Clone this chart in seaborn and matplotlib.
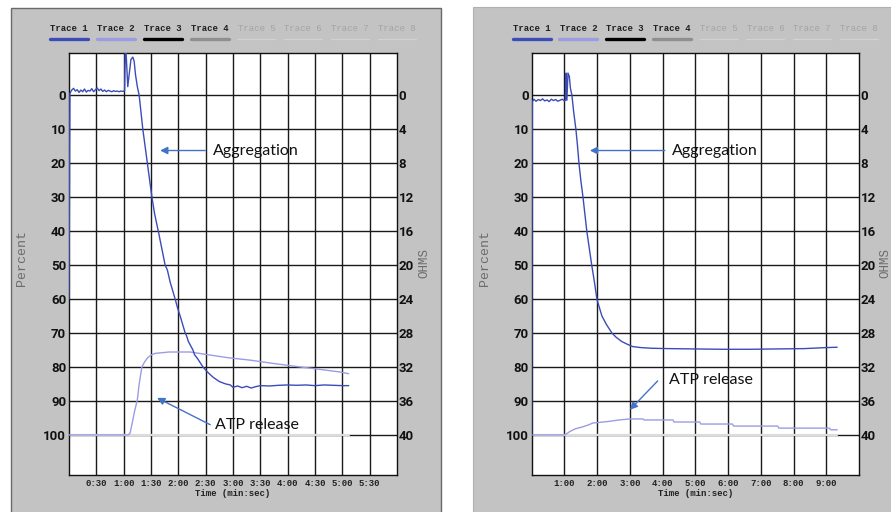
import numpy as np
import pandas as pd
import matplotlib
matplotlib.use("Agg")
import matplotlib.pyplot as plt
import seaborn as sns
from matplotlib.patches import Rectangle
from matplotlib.lines import Line2D

sns.set_theme(style="white")
plt.rcParams['font.family'] = ['DejaVu Sans']

# ---------------- data ----------------
pct_ticks = [0, 10, 20, 30, 40, 50, 60, 70, 80, 90, 100]
ohm_ticks = [0, 4, 8, 12, 16, 20, 24, 28, 32, 36, 40]
trace_names = ["Trace 1", "Trace 2", "Trace 3", "Trace 4",
               "Trace 5", "Trace 6", "Trace 7", "Trace 8"]

# left chart (time in seconds, value in percent)
left_xticks = [30, 60, 90, 120, 150, 180, 210, 240, 270, 300, 330]
left_xlabels = ["0:30", "1:00", "1:30", "2:00", "2:30", "3:00",
                "3:30", "4:00", "4:30", "5:00", "5:30"]
left_agg_t = [0, 1, 3, 5, 7, 9, 11, 13, 15, 17, 19, 21, 23, 25, 27, 29, 31,
              33, 35, 37, 39, 41, 43, 45, 47, 49, 51, 53, 55, 57, 59, 61,
              62, 64.5, 66, 68, 70, 71.5, 73, 75, 77, 79, 81, 83.5, 86, 88.5,
              91, 94, 98, 101, 105.5, 108, 111, 116.5, 119, 122, 127.5, 129,
              131, 136, 138, 141, 147, 152, 158, 165, 172, 177, 180, 185, 190,
              195, 200, 205, 210, 220, 230, 240, 250, 260, 270, 280, 290, 300,
              307]
left_agg_p = [60, -0.5, -1.5, -2.0, -1.2, -1.6, -0.8, -1.5, -1.0, -1.8, -0.9,
              -1.4, -1.2, -1.9, -1.0, -1.6, -2.1, -1.3, -1.8, -1.1, -1.5, -1.0,
              -1.4, -1.2, -1.0, -1.3, -1.1, -1.2, -1.0, -1.2, -1.1, -1.3,
              -16, -2.5, -6, -10.5, -11.2, -10, -6, -2.5, 0, 5, 10, 15, 20, 25,
              30, 35, 40, 44, 50, 51.5, 55, 60, 62.5, 65, 70, 70.8, 72.5, 75,
              76.5, 77.5, 80, 81.5, 83, 84.3, 85, 85.3, 86.0, 85.6, 86.1, 85.7,
              86.2, 85.8, 85.5, 85.6, 85.4, 85.3, 85.4, 85.3, 85.5, 85.3, 85.4,
              85.5, 85.5]
left_atp_t = [0, 65, 67, 69, 72, 75, 77, 80, 83, 86, 90, 94.5, 110, 133, 150,
              175, 199, 225, 254, 275, 298, 307]
left_atp_p = [100, 100, 99.5, 97, 93, 89.7, 85, 80, 78.5, 77.4, 76.5, 76,
              75.6, 75.6, 76.3, 77.3, 78, 79, 80, 80.7, 81.5, 82]
left_base_t = [0, 307]
left_base_p = [100, 100]

# right chart
right_xticks = [60, 120, 180, 240, 300, 360, 420, 480, 540]
right_xlabels = ["1:00", "2:00", "3:00", "4:00", "5:00", "6:00",
                 "7:00", "8:00", "9:00"]
right_agg_t = [0, 1, 4, 8, 12, 16, 20, 24, 28, 32, 36, 40, 44, 48, 52, 56, 60,
               62, 63, 64.5, 66.5, 69, 71, 73.7, 77, 81, 84, 86.6, 90, 94,
               97.5, 101, 105.5, 110, 115, 119.5, 124, 128.7, 137, 147, 155,
               165, 175, 185, 200, 220, 250, 300, 350, 400, 450, 500, 540, 560]
right_agg_p = [100, 2, 1.2, 1.8, 1.3, 1.6, 1.1, 1.7, 1.4, 1.9, 1.2, 1.6, 1.3,
               1.8, 1.5, 1.2, 1.7, 1.5, -6.5, 1.5, -6.5, -5.5, -2, 0, 5, 10,
               15, 20, 25, 30, 35, 40, 45, 50, 55, 60, 62.5, 65, 67.5, 70,
               71.3, 72.5, 73.3, 74, 74.3, 74.5, 74.6, 74.7, 74.8, 74.8, 74.7,
               74.6, 74.3, 74.2]
right_atp_t = [0, 61, 70, 80, 94, 105, 112, 125, 143, 160, 180, 204, 206, 259,
               261, 308, 310, 368, 370, 451, 453, 546, 548, 560]
right_atp_p = [100, 100, 99, 98.2, 97.6, 97.0, 96.5, 96.3, 96.0, 95.6, 95.3,
               95.3, 95.6, 95.6, 96.2, 96.2, 96.8, 96.8, 97.4, 97.4, 98.0,
               98.0, 98.5, 98.5]
right_base_t = [0, 560]
right_base_p = [100, 100]

# ---------------- style ----------------
W, H = 891, 512
C_AGG = '#3b4cb8'
C_ATP = '#9c9ce4'
C_ARROW = '#4472c4'
PANEL = '#c3c3c3'
trace_colors = [C_AGG, C_ATP, '#000000', '#8f8f8f',
                '#d2d2d2', '#d2d2d2', '#d2d2d2', '#d2d2d2']
MONO = ['Liberation Mono', 'DejaVu Sans Mono']
NARROW = ['Roboto', 'DejaVu Sans']
NOTE = ['Lato', 'DejaVu Sans']
YLIM = (111.8, -12.4)

fig = plt.figure(figsize=(W / 100, H / 100), dpi=100)
fig.patch.set_facecolor('white')

fig.patches.append(Rectangle((11 / W, -0.01), (441 - 11) / W, 1 - 8 / H + 0.01,
                             transform=fig.transFigure, facecolor=PANEL,
                             edgecolor='#6a6a6a', lw=1, zorder=-5))
fig.patches.append(Rectangle((473 / W, -0.01), (W - 473 + 5) / W, 1 - 7 / H + 0.01,
                             transform=fig.transFigure, facecolor=PANEL,
                             edgecolor='#b0b0b0', lw=0.8, zorder=-5))


def fx(x):
    return x / W


def fy(y):
    return 1 - y / H


def panel(x0, x1, xmax, step, xticks, xlabels, agg_t, agg_p, atp_t, atp_p,
          base_t, base_p, notes, plabel_x, olabel_x):
    ax = fig.add_axes([fx(x0), fy(475), fx(x1 - x0), (475 - 53) / H])
    ax.set_zorder(2)
    ax.set_facecolor('white')
    ax.set_xlim(0, xmax)
    ax.set_ylim(*YLIM)
    for v in np.arange(step, xmax, step):
        ax.axvline(v, color='#1a1a1a', lw=1, zorder=1)
    for p in pct_ticks:
        ax.axhline(p, color='#1a1a1a', lw=1, zorder=1)

    base = pd.DataFrame({'t': base_t, 'p': base_p})
    atp = pd.DataFrame({'t': atp_t, 'p': atp_p})
    agg = pd.DataFrame({'t': agg_t, 'p': agg_p})
    sns.lineplot(data=base, x='t', y='p', ax=ax, color='#dcdcdc', lw=1.6,
                 estimator=None, sort=False, zorder=2)
    sns.lineplot(data=atp, x='t', y='p', ax=ax, color=C_ATP, lw=1.0,
                 estimator=None, sort=False, zorder=3)
    sns.lineplot(data=agg, x='t', y='p', ax=ax, color=C_AGG, lw=1.0,
                 estimator=None, sort=False, zorder=4)

    ax.set_xticks(xticks)
    ax.set_xticklabels(xlabels, fontfamily=MONO, fontweight='bold',
                       fontsize=6.5, color='#222222')
    ax.set_yticks(pct_ticks)
    ax.set_yticklabels([str(v) for v in pct_ticks], fontfamily=NARROW,
                       fontweight='bold', fontsize=9.5, color='#111111',
                       fontstretch='condensed')
    ax.tick_params(axis='both', length=0)
    ax.tick_params(axis='x', pad=3)
    ax.tick_params(axis='y', pad=2)
    ax.set_xlabel('')
    ax.set_ylabel('')
    for s in ax.spines.values():
        s.set_color('#111111')
        s.set_linewidth(1)

    ax2 = ax.twinx()
    ax2.set_ylim(YLIM[0] * 0.4, YLIM[1] * 0.4)
    ax2.set_yticks(ohm_ticks)
    ax2.set_yticklabels([str(v) for v in ohm_ticks], fontfamily=NARROW,
                        fontweight='bold', fontsize=9.5, color='#111111',
                        fontstretch='condensed')
    ax2.tick_params(axis='y', length=0, pad=1)
    ax2.grid(False)
    for s in ax2.spines.values():
        s.set_visible(False)

    # annotations
    for text, head, tail, tpos in notes:
        ax.annotate('', xy=head, xytext=tail,
                    arrowprops=dict(arrowstyle='-|>', color=C_ARROW, lw=1.0,
                                    mutation_scale=11, shrinkA=0, shrinkB=0),
                    zorder=6)
        ax.text(tpos[0], tpos[1], text, fontfamily=NOTE, fontsize=11.5,
                color='#111111', ha='left', va='center', zorder=6)

    # legend strip
    for i, name in enumerate(trace_names):
        cx = x0 + i * (x1 - x0) / 7
        active = i < 4
        fig.text(fx(cx), fy(28.5), name, fontfamily=MONO,
                 fontweight='bold' if active else 'normal', fontsize=6.5,
                 color='#202020' if active else '#a4a4a4',
                 ha='center', va='center')
        fig.lines.append(Line2D([fx(cx - 19), fx(cx + 19)], [fy(38.5), fy(38.5)],
                                transform=fig.transFigure,
                                color=trace_colors[i],
                                lw=2.4 if active else 0.9))

    fig.text(fx((x0 + x1) / 2), fy(494), 'Time (min:sec)', fontfamily=MONO,
             fontweight='bold', fontsize=6.5, color='#222222',
             ha='center', va='center')
    fig.text(fx(plabel_x), fy(258), 'Percent', fontfamily=MONO, fontsize=9.5,
             color='#6c6c6c', rotation=90, ha='center', va='center')
    fig.text(fx(olabel_x), fy(263), 'OHMS', fontfamily=MONO, fontsize=9,
             color='#6c6c6c', rotation=90, ha='center', va='center')
    return ax


panel(69, 397, 360, 30, left_xticks, left_xlabels,
      left_agg_t, left_agg_p, left_atp_t, left_atp_p, left_base_t, left_base_p,
      [('Aggregation', (100, 16.3), (149.5, 16.3), (158, 16.3)),
       ('ATP release', (96.7, 89.1), (155, 97.0), (160.4, 97.0))],
      22, 424)

panel(531.7, 859, 600, 60, right_xticks, right_xlabels,
      right_agg_t, right_agg_p, right_atp_t, right_atp_p, right_base_t,
      right_base_p,
      [('Aggregation', (106.6, 16.3), (244, 16.3), (257, 16.3)),
       ('ATP release', (180, 92.6), (231, 84.1), (251, 83.8))],
      485, 885)

fig.savefig('out.png', dpi=100)
